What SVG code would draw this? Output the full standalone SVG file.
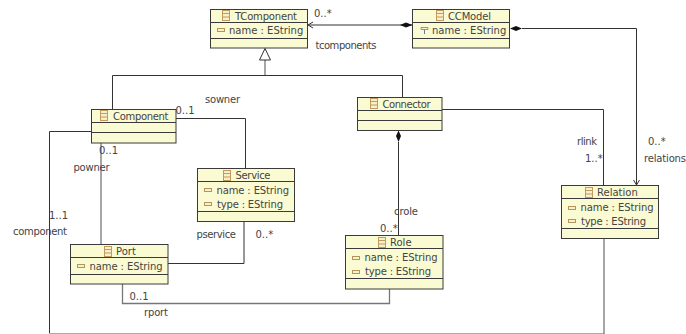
<svg xmlns="http://www.w3.org/2000/svg" width="686" height="334" viewBox="0 0 686 334">
<style>
text{font-family:"DejaVu Sans",sans-serif;font-size:10px;fill:#444}
.b{fill:#fbfbd3;stroke:#3a3a3a;stroke-width:1}
.d{stroke:#3a3a3a;stroke-width:1;fill:none}
.c{fill:none;stroke:#333;stroke-width:1}
.g{fill:none;stroke:#777;stroke-width:1.300}
.k{fill:#f6f0cc;stroke:#c49a5a;stroke-width:1}
.a{fill:#f6f0cc;stroke:#b5935a;stroke-width:1}
</style>
<defs>
<g id="ci"><rect class="k" x="0.500" y="0.500" width="7" height="10"/><path class="k" d="M0.500 3.500h7M0.500 7h7"/></g>
<rect id="ai" class="a" x="0.500" y="0.500" width="7" height="3"/>
</defs>
<rect width="686" height="334" fill="#fff"/>
<g id="connectors">
<path class="c" d="M412.500 25H308M313 22L308 25L313 28"/>
<path d="M412.500 25L406 22.500L400 25L406 27.500Z" fill="#111"/>
<path class="c" d="M522 28.500H636.500V185M633.500 180L636.500 185L639.500 180"/>
<path d="M510 28.500L516 26L522 28.500L516 31Z" fill="#111"/>
<path class="g" d="M265 60V75"/>
<path class="c" d="M112.500 109V75.500H402.500V97"/>
<path d="M265 48.500L259.500 60H270.500Z" fill="#fff" stroke="#333"/>
<path class="c" d="M176 118.500H245.500V168"/>
<path class="g" d="M101 143V244"/>
<path class="c" d="M91.500 131.500H49.500V333"/>
<path d="M49 333.500H604" fill="none" stroke="#aaa"/>
<path class="g" d="M604 238V334"/>
<path class="c" d="M168 263.500H244V221"/>
<path class="g" d="M122.500 284V303.500H389.500V289" stroke-width="1"/>
<path class="c" d="M398.500 142V235"/>
<path d="M398.500 130.500L396 136L398.500 142L401 136Z" fill="#111"/>
<path class="c" d="M442 109.500H603.500V185"/>
</g>
<g id="TComponent"><rect class="b" x="210.500" y="9.500" width="97" height="38.500"/><path class="d" d="M210.500 22.500h97M210.500 38.500h97"/><use href="#ci" x="222" y="10"/><text x="235" y="20" textLength="62">TComponent</text><use href="#ai" x="217" y="28"/><text x="229" y="34">name : EString</text></g>
<g id="CCModel"><rect class="b" x="412.500" y="9.500" width="97" height="38.500"/><path class="d" d="M412.500 22.500h97M412.500 38.500h97"/><use href="#ci" x="436" y="10"/><text x="448" y="20" textLength="43">CCModel</text><path d="M421 27.500h7v2h-7z" fill="#f6f0cc" stroke="#b5935a"/><path d="M424.500 30v4" stroke="#5a7ab5"/><text x="432" y="34">name : EString</text></g>
<g id="Connector"><rect class="b" x="357.500" y="97.500" width="84.500" height="33"/><path class="d" d="M357.500 110.500h84.500M357.500 120.500h84.500"/><use href="#ci" x="370" y="98"/><text x="382.500" y="108" textLength="48">Connector</text></g>
<g id="Component"><rect class="b" x="91.500" y="109.500" width="84.500" height="33.500"/><path class="d" d="M91.500 122.500h84.500M91.500 132.500h84.500"/><use href="#ci" x="100" y="110"/><text x="113" y="120" textLength="55.500">Component</text></g>
<g id="Service"><rect class="b" x="197.500" y="168.500" width="97" height="53"/><path class="d" d="M197.500 181.500h97M197.500 211.500h97"/><use href="#ci" x="223" y="170"/><text x="235.500" y="179" textLength="35">Service</text><use href="#ai" x="204" y="188"/><text x="216.500" y="194" textLength="72.500">name : EString</text><use href="#ai" x="204" y="202"/><text x="217" y="208" textLength="66">type : EString</text></g>
<g id="Port"><rect class="b" x="70.500" y="244.500" width="97.500" height="39.500"/><path class="d" d="M70.500 257.500h97.500M70.500 274.500h97.500"/><use href="#ci" x="104" y="246"/><text x="116" y="255">Port</text><use href="#ai" x="77" y="264"/><text x="89.500" y="270" textLength="73">name : EString</text></g>
<g id="Role"><rect class="b" x="345.500" y="235.500" width="97.500" height="53.500"/><path class="d" d="M345.500 248.500h97.500M345.500 278.500h97.500"/><use href="#ci" x="378" y="237"/><text x="390" y="246">Role</text><use href="#ai" x="352" y="256"/><text x="364.500" y="261" textLength="73">name : EString</text><use href="#ai" x="352" y="270"/><text x="365" y="275" textLength="66">type : EString</text></g>
<g id="Relation"><rect class="b" x="561.500" y="185.500" width="97" height="53"/><path class="d" d="M561.500 198.500h97M561.500 228.500h97"/><use href="#ci" x="585" y="187"/><text x="597" y="196">Relation</text><use href="#ai" x="568" y="206"/><text x="580.500" y="211" textLength="73">name : EString</text><use href="#ai" x="568" y="219"/><text x="581" y="225" textLength="65">type : EString</text></g>
<g id="labels">
<text x="314" y="17">0..*</text>
<text x="315.500" y="49" textLength="61">tcomponents</text>
<text x="205" y="103" textLength="35">sowner</text>
<text x="175.500" y="113.500">0..1</text>
<text x="99" y="154">0..1</text>
<text x="73.500" y="171" textLength="36">powner</text>
<text x="49" y="219">1..1</text>
<text x="13" y="235" textLength="54">component</text>
<text x="196.500" y="238" textLength="39.500">pservice</text>
<text x="255.500" y="238">0..*</text>
<text x="129.500" y="300">0..1</text>
<text x="144" y="316" textLength="24">rport</text>
<text x="394" y="215" textLength="24">crole</text>
<text x="380" y="232">0..*</text>
<text x="577" y="145" textLength="20">rlink</text>
<text x="585" y="162">1..*</text>
<text x="648" y="145">0..*</text>
<text x="644" y="162" textLength="42">relations</text>
</g>
</svg>
